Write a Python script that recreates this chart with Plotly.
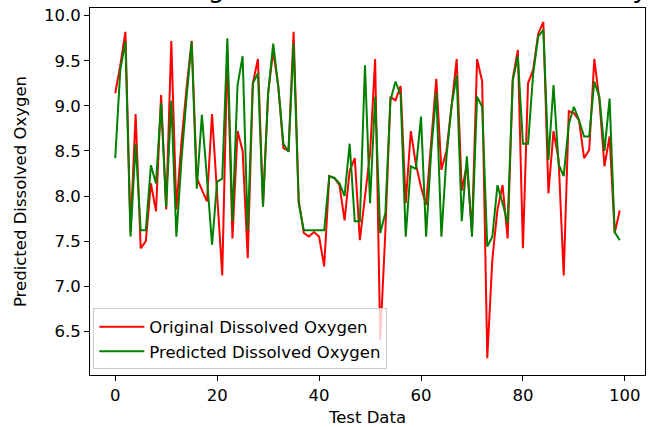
import plotly.graph_objects as go

test_index = list(range(100))

original_do = [
    9.14, 9.45, 9.82, 7.60, 8.91, 7.42, 7.50, 8.14, 7.83, 9.12,
    7.85, 9.72, 7.85, 8.60, 9.20, 9.72, 8.20, 8.06, 7.94, 8.91,
    8.00, 7.12, 9.60, 7.53, 8.72, 8.50, 7.31, 9.25, 9.52, 7.90,
    9.14, 9.61, 9.21, 8.53, 8.50, 9.82, 7.95, 7.59, 7.55, 7.60,
    7.55, 7.22, 8.22, 8.20, 8.12, 7.73, 8.28, 8.42, 7.51, 8.00,
    8.47, 9.52, 6.40, 7.60, 9.10, 9.06, 9.22, 7.92, 8.72, 8.35,
    8.10, 7.90, 8.60, 9.30, 8.29, 8.50, 9.00, 9.52, 8.06, 8.35,
    7.60, 9.52, 9.27, 6.20, 7.30, 7.85, 8.12, 7.53, 9.30, 9.62,
    7.42, 9.25, 9.40, 9.80, 9.93, 8.03, 8.72, 8.40, 7.12, 8.94,
    8.92, 8.84, 8.42, 8.51, 9.52, 9.06, 8.33, 8.66, 7.59, 7.84,
]

predicted_do = [
    8.42, 9.40, 9.71, 7.55, 8.58, 7.62, 7.62, 8.34, 8.14, 9.03,
    7.88, 9.06, 7.55, 8.40, 9.10, 9.71, 8.08, 8.90, 8.20, 7.46,
    8.16, 8.19, 9.75, 7.72, 9.23, 9.55, 7.62, 9.25, 9.36, 7.88,
    9.14, 9.69, 9.21, 8.58, 8.49, 9.69, 7.92, 7.62, 7.62, 7.62,
    7.62, 7.62, 8.22, 8.20, 8.14, 8.00, 8.58, 7.72, 7.72, 9.45,
    7.92, 9.10, 7.59, 7.81, 9.06, 9.27, 9.12, 7.55, 8.33, 8.30,
    8.88, 7.55, 8.50, 9.15, 7.55, 8.44, 9.00, 9.34, 7.72, 8.44,
    7.55, 9.10, 8.99, 7.44, 7.55, 8.12, 7.92, 7.70, 9.28, 9.55,
    8.58, 8.58, 9.35, 9.77, 9.84, 8.40, 9.23, 8.35, 8.22, 8.80,
    8.99, 8.84, 8.66, 8.66, 9.27, 9.10, 8.50, 9.08, 7.60, 7.51,
]

series_names = ["Original Dissolved Oxygen", "Predicted Dissolved Oxygen"]
series_colors = ["red", "green"]
x_ticks = [0, 20, 40, 60, 80, 100]
y_ticks = [6.5, 7.0, 7.5, 8.0, 8.5, 9.0, 9.5, 10.0]
title_text = "Original vs Predicted Dissolved Oxygen"

FONT = "DejaVu Sans"
FS = 16.5

fig = go.Figure()
for name, vals, col in zip(series_names, [original_do, predicted_do], series_colors):
    fig.add_trace(go.Scatter(
        x=test_index, y=vals, mode="lines", name=name,
        line=dict(color=col, width=2),
    ))

axis_common = dict(
    showline=True, mirror=True, linecolor="black", linewidth=1,
    ticks="outside", ticklen=5, tickwidth=1, tickcolor="black",
    showgrid=False, zeroline=False, automargin=False,
    tickfont=dict(family=FONT, size=FS, color="black"),
)

fig.update_layout(
    width=651, height=427,
    margin=dict(l=90, r=6, t=8, b=52),
    paper_bgcolor="white", plot_bgcolor="white",
    font=dict(family=FONT, size=FS, color="black"),
    showlegend=True,
    legend=dict(
        x=0.006, y=0.015, xanchor="left", yanchor="bottom",
        bgcolor="rgba(255,255,255,0.8)", bordercolor="#cccccc", borderwidth=1,
        font=dict(family=FONT, size=FS, color="black"),
        itemwidth=45,
    ),
    xaxis=dict(
        range=[-4.95, 103.95], tickvals=x_ticks,
        title=dict(text="Test Data", font=dict(family=FONT, size=FS), standoff=8),
        **axis_common,
    ),
    yaxis=dict(
        range=[6.015, 10.085], tickvals=y_ticks, tickformat=".1f",
        title=dict(text="Predicted Dissolved Oxygen", font=dict(family=FONT, size=FS), standoff=13),
        **axis_common,
    ),
)

fig.add_annotation(
    text=title_text, xref="paper", yref="paper", x=0.137, y=1,
    xanchor="left", yanchor="bottom", yshift=3, showarrow=False,
    font=dict(family=FONT, size=27, color="black"),
)

fig.write_html("out.html")
